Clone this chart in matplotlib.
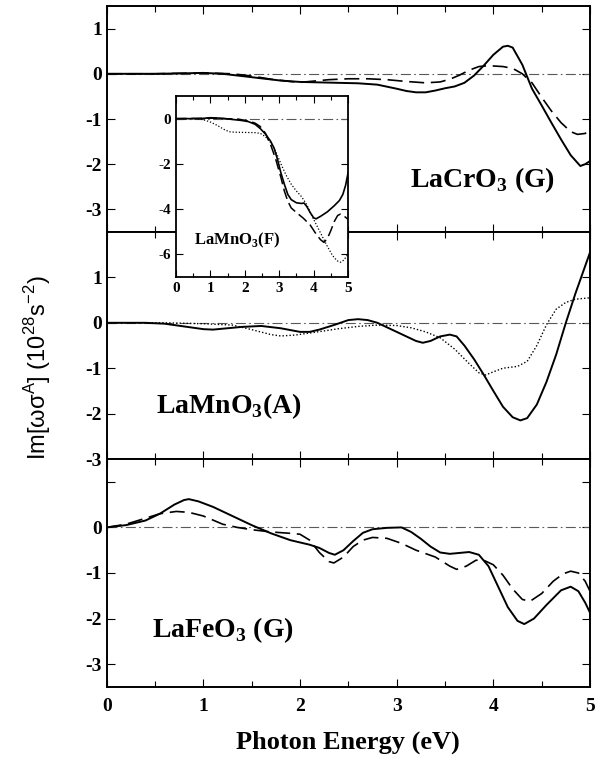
import matplotlib
matplotlib.use("Agg")
import matplotlib.pyplot as plt
from matplotlib.ticker import MultipleLocator

plt.rcParams["mathtext.fontset"] = "custom"
plt.rcParams["mathtext.bf"] = "Liberation Serif:bold"
plt.rcParams["mathtext.rm"] = "Liberation Serif:bold"
plt.rcParams["mathtext.sf"] = "Liberation Sans"
plt.rcParams["axes.unicode_minus"] = False

# --- LaCrO3 (G) ---
cr_solid_e = [0.0, 0.5, 0.8, 1.0, 1.2, 1.4, 1.6, 1.8, 2.0, 2.2, 2.4, 2.6, 2.8, 3.0, 3.1,
              3.2, 3.3, 3.4, 3.5, 3.6, 3.7, 3.8, 3.9, 4.0, 4.1, 4.15, 4.2, 4.3, 4.4, 4.5,
              4.6, 4.7, 4.8, 4.9, 4.95, 5.0]
cr_solid_v = [0.0, 0.0, 0.01, 0.02, 0.0, -0.05, -0.1, -0.15, -0.18, -0.19, -0.2, -0.21, -0.24,
              -0.33, -0.38, -0.41, -0.41, -0.37, -0.32, -0.28, -0.2, -0.04, 0.18, 0.42, 0.6,
              0.62, 0.58, 0.2, -0.33, -0.7, -1.08, -1.45, -1.8, -2.04, -2.0, -1.93]
cr_dash_e = [0.0, 0.5, 1.0, 1.3, 1.5, 1.7, 1.9, 2.0, 2.1, 2.3, 2.5, 2.7, 2.9, 3.1, 3.3,
             3.45, 3.55, 3.65, 3.75, 3.85, 3.95, 4.1, 4.2, 4.3, 4.4, 4.5, 4.6, 4.7, 4.8,
             4.87, 4.95, 5.0]
cr_dash_v = [0.0, 0.0, 0.02, 0.0, -0.05, -0.12, -0.17, -0.19, -0.17, -0.13, -0.11, -0.11, -0.13,
             -0.17, -0.2, -0.18, -0.12, -0.03, 0.08, 0.16, 0.18, 0.16, 0.12, 0.0, -0.2, -0.52,
             -0.82, -1.08, -1.28, -1.34, -1.32, -1.23]

# --- LaMnO3 (A) ---
mna_solid_e = [0.0, 0.4, 0.6, 0.8, 1.0, 1.1, 1.2, 1.4, 1.6, 1.8, 2.0, 2.1, 2.2, 2.35, 2.5,
               2.6, 2.7, 2.8, 2.9, 3.0, 3.1, 3.2, 3.27, 3.35, 3.45, 3.55, 3.62, 3.7, 3.8,
               3.9, 4.0, 4.1, 4.2, 4.28, 4.35, 4.45, 4.55, 4.65, 4.75, 4.85, 4.95, 5.0]
mna_solid_v = [0.0, 0.0, -0.02, -0.08, -0.14, -0.15, -0.13, -0.09, -0.07, -0.12, -0.2, -0.2,
               -0.15, -0.05, 0.06, 0.08, 0.06, 0.0, -0.1, -0.2, -0.3, -0.4, -0.44, -0.4, -0.3,
               -0.26, -0.3, -0.5, -0.8, -1.14, -1.5, -1.85, -2.08, -2.15, -2.1, -1.8, -1.3,
               -0.7, 0.0, 0.65, 1.25, 1.55]
mna_dot_e = [0.0, 0.6, 1.0, 1.3, 1.5, 1.7, 1.8, 1.95, 2.15, 2.4, 2.6, 2.8, 3.0, 3.15, 3.3,
             3.45, 3.6, 3.75, 3.85, 3.92, 4.0, 4.1, 4.25, 4.35, 4.45, 4.55, 4.65, 4.75,
             4.85, 5.0]
mna_dot_v = [0.0, 0.0, -0.02, -0.05, -0.15, -0.26, -0.29, -0.27, -0.21, -0.13, -0.08, -0.05,
             -0.06, -0.11, -0.2, -0.33, -0.58, -0.9, -1.1, -1.15, -1.08, -1.0, -0.96, -0.85,
             -0.5, -0.04, 0.3, 0.45, 0.52, 0.55]

# --- LaFeO3 (G) ---
fe_solid_e = [0.0, 0.2, 0.4, 0.55, 0.7, 0.8, 0.85, 0.95, 1.1, 1.3, 1.5, 1.7, 1.9, 2.1, 2.2,
              2.3, 2.36, 2.45, 2.55, 2.65, 2.75, 2.9, 3.05, 3.15, 3.25, 3.35, 3.45, 3.55,
              3.65, 3.75, 3.85, 3.95, 4.05, 4.15, 4.25, 4.32, 4.42, 4.55, 4.7, 4.8, 4.88,
              4.95, 5.0]
fe_solid_v = [0.0, 0.05, 0.15, 0.3, 0.5, 0.6, 0.62, 0.57, 0.45, 0.25, 0.05, -0.13, -0.28,
              -0.38, -0.45, -0.56, -0.6, -0.5, -0.3, -0.12, -0.04, -0.01, 0.0, -0.1, -0.25,
              -0.42, -0.55, -0.58, -0.56, -0.54, -0.6, -0.85, -1.3, -1.75, -2.05, -2.12,
              -2.0, -1.7, -1.38, -1.3, -1.4, -1.65, -1.87]
fe_dash_e = [0.0, 0.2, 0.4, 0.55, 0.72, 0.85, 1.0, 1.2, 1.35, 1.5, 1.7, 1.9, 2.0, 2.1, 2.2,
             2.3, 2.35, 2.45, 2.55, 2.65, 2.75, 2.9, 3.05, 3.2, 3.4, 3.55, 3.62, 3.72, 3.82,
             3.9, 4.0, 4.1, 4.2, 4.3, 4.38, 4.5, 4.62, 4.72, 4.8, 4.88, 4.95, 5.0]
fe_dash_v = [0.0, 0.07, 0.2, 0.3, 0.35, 0.33, 0.25, 0.07, 0.0, -0.05, -0.1, -0.13, -0.15,
             -0.28, -0.55, -0.75, -0.78, -0.65, -0.42, -0.28, -0.22, -0.24, -0.35, -0.5,
             -0.65, -0.85, -0.92, -0.85, -0.72, -0.72, -0.82, -1.05, -1.35, -1.58, -1.62,
             -1.45, -1.18, -1.02, -0.96, -1.0, -1.18, -1.4]

# --- inset LaMnO3 (F) ---
mnf_solid_e = [0.0, 0.7, 1.0, 1.3, 1.6, 1.9, 2.1, 2.3, 2.45, 2.6, 2.75, 2.85, 2.95, 3.05,
               3.15, 3.25, 3.35, 3.5, 3.65, 3.72, 3.8, 3.9, 4.0, 4.07, 4.2, 4.4, 4.6, 4.75,
               4.85, 4.93, 5.0]
mnf_solid_v = [0.0, 0.0, 0.04, 0.02, -0.03, -0.08, -0.13, -0.25, -0.44, -0.68, -1.0, -1.3,
               -1.8, -2.4, -2.9, -3.35, -3.58, -3.72, -3.75, -3.73, -3.88, -4.15, -4.38, -4.43,
               -4.32, -4.12, -3.85, -3.62, -3.35, -2.95, -2.41]
mnf_dash_e = [0.0, 1.0, 1.8, 2.1, 2.3, 2.45, 2.6, 2.75, 2.9, 3.05, 3.15, 3.25, 3.35, 3.5,
              3.7, 3.9, 4.05, 4.2, 4.3, 4.4, 4.5, 4.6, 4.7, 4.78, 4.88, 5.0]
mnf_dash_v = [0.0, 0.02, -0.02, -0.1, -0.2, -0.35, -0.65, -1.15, -1.8, -2.6, -3.2, -3.65,
              -3.95, -4.15, -4.4, -4.7, -5.05, -5.35, -5.47, -5.3, -4.95, -4.55, -4.28, -4.22,
              -4.3, -4.45]
mnf_dot_e = [0.0, 0.6, 0.8, 1.0, 1.2, 1.4, 1.55, 1.7, 2.0, 2.3, 2.45, 2.6, 2.75, 2.9, 3.05,
             3.2, 3.35, 3.5, 3.65, 3.8, 3.95, 4.1, 4.25, 4.4, 4.55, 4.68, 4.78, 4.88, 5.0]
mnf_dot_v = [0.0, 0.0, -0.05, -0.15, -0.3, -0.48, -0.58, -0.6, -0.61, -0.62, -0.65, -0.8,
             -1.05, -1.45, -2.0, -2.5, -2.9, -3.2, -3.45, -3.8, -4.3, -4.75, -5.2, -5.65,
             -6.05, -6.28, -6.35, -6.25, -5.99]

serif = "Liberation Serif"
fig = plt.figure(figsize=(6.08, 7.62), dpi=100)

left, width = 106.7 / 608, (590 - 106.7) / 608
edges = [6, 232, 459, 687]
axes = []
for i in range(3):
    b = 1 - edges[i + 1] / 762
    h = (edges[i + 1] - edges[i]) / 762
    axes.append(fig.add_axes([left, b, width, h]))
ax1, ax2, ax3 = axes

zero_ls = (0, (9, 3, 1.5, 3))


def style(ax, ylim, yticks, ylabels, lw=1.4, size=14, show_x=False):
    ax.set_xlim(0, 5)
    ax.set_ylim(*ylim)
    ax.xaxis.set_major_locator(MultipleLocator(1))
    ax.xaxis.set_minor_locator(MultipleLocator(0.5))
    ax.set_yticks(yticks)
    ax.set_yticklabels(ylabels, fontfamily=serif, fontweight="bold", fontsize=size)
    ax.tick_params(which="both", direction="in", top=True, right=True, width=0.8)
    ax.tick_params(which="major", length=6)
    ax.tick_params(which="minor", length=4)
    if show_x:
        ax.set_xticklabels([str(int(t)) for t in ax.get_xticks()], fontfamily=serif,
                           fontweight="bold", fontsize=size)
    else:
        ax.set_xticklabels([])
    for s in ax.spines.values():
        s.set_linewidth(lw)
    ax.axhline(0, color="0.35", lw=0.8, ls=zero_ls)


style(ax1, (-3.5, 1.5), [1, 0, -1, -2, -3], ["1", "0", "-1", "-2", "-3"])
style(ax2, (-3, 2), [1, 0, -1, -2, -3], ["1", "0", "-1", "-2", "-3"])
style(ax3, (-3.5, 1.5), [1, 0, -1, -2, -3], ["", "0", "-1", "-2", "-3"], show_x=True)
ax3.tick_params(axis="x", pad=8)

dash = (0, (9, 4))
dot = (0, (1, 1.5))
ax1.plot(cr_solid_e, cr_solid_v, color="black", lw=1.4)
ax1.plot(cr_dash_e, cr_dash_v, color="black", lw=1.2, ls=dash)
ax2.plot(mna_solid_e, mna_solid_v, color="black", lw=1.4)
ax2.plot(mna_dot_e, mna_dot_v, color="black", lw=1.0, ls=dot)
ax3.plot(fe_solid_e, fe_solid_v, color="black", lw=1.4)
ax3.plot(fe_dash_e, fe_dash_v, color="black", lw=1.2, ls=dash)

lab = dict(fontfamily=serif, fontweight="bold", fontsize=20, va="baseline")
ax1.text(0.627, 0.2, r"LaCrO$_{\mathbf{3}}$ (G)", transform=ax1.transAxes, **lab)
ax2.text(0.103, 0.203, r"LaMnO$_{\mathbf{3}}$(A)", transform=ax2.transAxes, **lab)
ax3.text(0.094, 0.219, r"LaFeO$_{\mathbf{3}}$ (G)", transform=ax3.transAxes, **lab)

# inset
axin = fig.add_axes([176 / 608, 1 - 277 / 762, 172 / 608, 181 / 762])
axin.set_xlim(0, 5)
axin.set_ylim(-7, 1)
axin.xaxis.set_major_locator(MultipleLocator(1))
axin.xaxis.set_minor_locator(MultipleLocator(0.5))
axin.set_yticks([0, -2, -4, -6])
axin.set_yticklabels(["0", "-2", "-4", "-6"], fontfamily=serif, fontweight="bold", fontsize=11)
axin.set_xticklabels([str(int(t)) for t in axin.get_xticks()], fontfamily=serif,
                     fontweight="bold", fontsize=11)
axin.tick_params(which="both", direction="in", top=True, right=True, width=0.8)
axin.tick_params(which="major", length=5)
axin.tick_params(which="minor", length=3)
for s in axin.spines.values():
    s.set_linewidth(1.3)
axin.axhline(0, color="0.35", lw=0.8, ls=zero_ls)
axin.plot(mnf_solid_e, mnf_solid_v, color="black", lw=1.2)
axin.plot(mnf_dash_e, mnf_dash_v, color="black", lw=1.1, ls=(0, (7, 3)))
axin.plot(mnf_dot_e, mnf_dot_v, color="black", lw=0.9, ls=dot)
axin.text(0.105, 0.182, r"LaMnO$_{\mathbf{3}}$(F)", transform=axin.transAxes, fontfamily=serif,
          fontweight="bold", fontsize=12, va="baseline")

fig.text(348 / 608, 1 - 742 / 762, "Photon Energy (eV)", fontfamily=serif, fontweight="bold",
         fontsize=19, ha="center", va="center")
fig.text(38 / 608, 1 - 368 / 762,
         r"Im[ωσ$^{\mathsf{A}}$] (10$^{\mathsf{28}}$s$^{\mathsf{-2}}$)",
         fontfamily="Liberation Sans", fontsize=17, rotation=90, ha="center", va="center")

fig.savefig("out.png", dpi=100)
